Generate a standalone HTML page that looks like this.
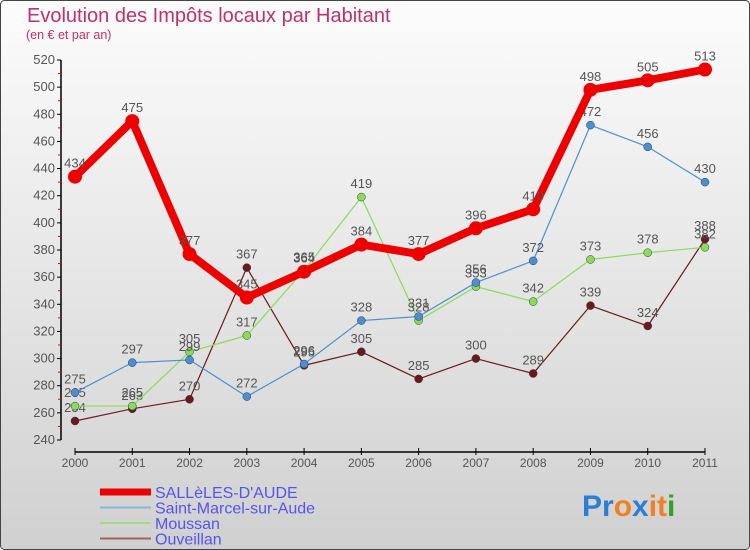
<!DOCTYPE html>
<html><head><meta charset="utf-8"><style>
body{margin:0;background:#fff}
svg{display:block;font-family:"Liberation Sans","DejaVu Sans",sans-serif}
</style></head><body>
<svg width="750" height="550" viewBox="0 0 750 550">
<defs><linearGradient id="bg" x1="0" y1="0" x2="0" y2="1"><stop offset="0" stop-color="#fcfcfc"/><stop offset="1" stop-color="#d0d0d0"/></linearGradient></defs>
<rect x="0.5" y="0.5" width="749" height="549" rx="4" fill="url(#bg)" stroke="#444"/>
<text x="27" y="22" font-size="20" fill="#c0306a">Evolution des Impôts locaux par Habitant</text>
<text x="26" y="39" font-size="12.5" fill="#c0306a">(en € et par an)</text>
<g id="axes"></g>
<g id="series"></g>
<g id="legend"></g>
<text x="582" y="516" font-size="30" font-weight="bold"><tspan fill="#2a7fd4">Pr</tspan><tspan fill="#f08020">o</tspan><tspan fill="#2a7fd4">x</tspan><tspan fill="#f08020">it</tspan><tspan fill="#30a030">i</tspan></text>
</svg>
<script>
const years=[2000,2001,2002,2003,2004,2005,2006,2007,2008,2009,2010,2011];
const salles=[434,475,377,345,364,384,377,396,410,498,505,513];
const stMarcel=[275,297,299,272,296,328,331,356,372,472,456,430];
const moussan=[265,265,305,317,365,419,328,353,342,373,378,382];
const ouveillan=[254,263,270,367,295,305,285,300,289,339,324,388];
const yTicks=[240,260,280,300,320,340,360,380,400,420,440,460,480,500,520];
const NS="http://www.w3.org/2000/svg";
const X=i=>75+i*(630/11);
const Y=v=>440-(v-240)*(380/280);
function mk(tag,attrs,parent,txt){const e=document.createElementNS(NS,tag);for(const k in attrs)e.setAttribute(k,attrs[k]);if(txt!=null)e.textContent=txt;parent.appendChild(e);return e;}
const ax=document.getElementById('axes');
let l=mk('line',{x1:61,y1:Y(520),x2:61,y2:Y(240),stroke:'#000','stroke-width':1.5},ax);


yTicks.forEach(v=>{
 mk('line',{x1:57,y1:Y(v),x2:61,y2:Y(v),stroke:'#000'},ax);
 if(v<520)mk('line',{x1:58,y1:Y(v+10),x2:61,y2:Y(v+10),stroke:'#e00'},ax);
 const t=mk('text',{x:55,y:Y(v)+4,'font-size':13,fill:'#555','text-anchor':'end'},ax,v);
 
 
});
l=mk('line',{x1:75,y1:452,x2:705,y2:452,stroke:'#000','stroke-width':1.5},ax);


years.forEach((y,i)=>{
 mk('line',{x1:X(i),y1:448,x2:X(i),y2:455,stroke:'#000'},ax);
 const t=mk('text',{x:X(i),y:467,'font-size':12,fill:'#555','text-anchor':'middle'},ax,y);
 
 
});
const sg=document.getElementById('series');
const defs=[
 {d:ouveillan,c:'#6b1a1a',w:1.2,r:4,n:'ouveillan'},
 {d:moussan,c:'#88dd55',w:1.2,r:4,n:'moussan'},
 {d:stMarcel,c:'#4a90d0',w:1.2,r:4,n:'saint-marcel-sur-aude'},
 {d:salles,c:'#ee0000',w:8,r:7,n:'salles-d-aude'}];
defs.forEach(s=>{
 const g=mk('g',{},sg);
 
 
 const p=mk('polyline',{points:s.d.map((v,i)=>X(i)+','+Y(v)).join(' '),fill:'none',stroke:s.c,'stroke-width':s.w,'stroke-linejoin':'round'},g);
 
 
 s.d.forEach((v,i)=>{
  const c=mk('circle',{cx:X(i),cy:Y(v),r:s.r,fill:s.c,stroke:s.w>2?'none':'#335','stroke-width':0.5},g);
  
  
  const t=mk('text',{x:X(i),y:Y(v)-9,'font-size':13,fill:'#555','text-anchor':'middle'},g,v);
  
  
 });
});
const lg=document.getElementById('legend');
const items=[['SALLèLES-D\'AUDE','#ee0000',7],['Saint-Marcel-sur-Aude','#8ab4d4',2],['Moussan','#a0dd80',2],['Ouveillan','#a06060',2]];
items.forEach((it,i)=>{
 const y=492+i*15.5;
 const e=mk('line',{x1:100,y1:y,x2:151,y2:y,stroke:it[1],'stroke-width':it[2]},lg);
 
 
 const t=mk('text',{x:155,y:y+6,'font-size':16,fill:'#5555ee'},lg,it[0]);
 
 
});
</script>
</body></html>
